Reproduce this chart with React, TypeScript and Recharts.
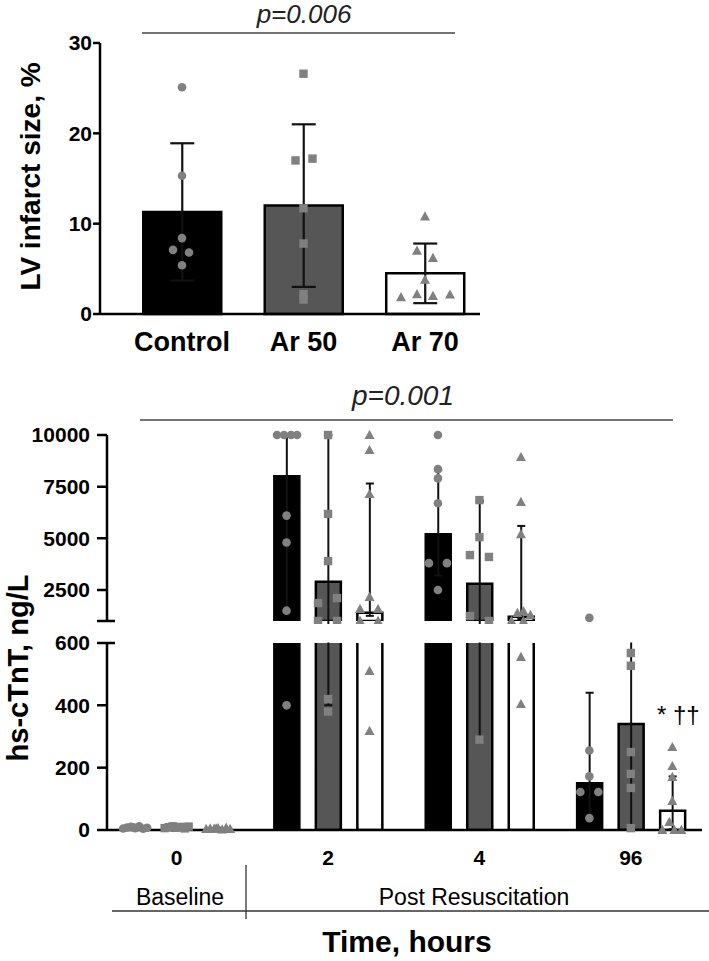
import React from 'react';
import { ComposedChart, Bar, Cell, Scatter, XAxis, YAxis, ErrorBar, ReferenceLine } from 'recharts';

const FONT = '"Liberation Sans", Arial, Helvetica, sans-serif';
const BLACK = '#000000';
const POINT = '#808080';
const FILLS = ['#000000', '#565656', '#ffffff'];

// ---------- Top panel: LV infarct size ----------
const groups = ['Control', 'Ar 50', 'Ar 70'];
const infarctMean = [11.3, 12.0, 4.5];
const infarctSD = [7.6, 9.0, 3.3];
const infarctControl = [25.1, 15.3, 8.4, 7.1, 6.8, 5.4];
const infarctAr50 = [26.6, 17.0, 17.2, 11.7, 7.8, 2.2, 1.6];
const infarctAr70 = [10.8, 7.0, 6.2, 3.8, 2.2, 1.85, 2.0, 2.15];
// horizontal jitter of the dots (px)
const jitterTopControl = [0, 0, 0, -9, 7, 0];
const jitterTopAr50 = [0, -8, 9, 0, 0, 0, 0];
const jitterTopAr70 = [0, -8, 8, 0, -8, -24, 8, 25];

// ---------- Bottom panel: hs-cTnT ----------
const times = ['0', '2', '4', '96'];
const tntControl = [7, 8000, 5200, 150];
const tntAr50 = [9, 2900, 2800, 340];
const tntAr70 = [4, 1400, 1200, 62];
// [lower delta, upper delta]
const tntControlErr = [[3, 4], [6500, 2000], [2000, 3100], [110, 290]];
const tntAr50Err = [[4, 4], [2500, 7100], [2510, 4000], [330, 400]];
const tntAr70Err = [[2, 3], [150, 6250], [100, 4400], [60, 110]];

const tntControlPts = [
  [5, 8, 10, 6, 12, 4, 7, 9],
  [10000, 10000, 10000, 10000, 6100, 4800, 1500, 400],
  [10000, 8350, 7900, 6700, 3800, 3800, 2500],
  [1150, 255, 172, 122, 122, 38],
];
const tntAr50Pts = [
  [6, 9, 12, 8, 10, 5, 11, 7],
  [10000, 6180, 3900, 2110, 1870, 1000, 1000, 420, 380],
  [6850, 5060, 4190, 4100, 1240, 1000, 290],
  [568, 527, 250, 180, 135, 6],
];
const tntAr70Pts = [
  [3, 5, 4, 6, 2, 7, 3, 5],
  [10000, 9270, 7140, 2160, 1580, 1580, 1000, 1000, 510, 318],
  [8930, 6760, 5200, 1390, 1480, 1290, 1000, 1000, 555, 404],
  [266, 205, 170, 93, 26, 0, 0, 0],
];
// horizontal jitter of the dots (px)
const jitterControl = [
  [-12, -8, -4, 0, 4, 8, 12, -2],
  [-9.5, -2.5, 4.5, 10.5, 0, 0, 0, 0],
  [0, 0, 0, 0, -9, 9, 0],
  [0, 0, 0, -9, 9, 0],
];
const jitterAr50 = [
  [-12, -8, -4, 0, 4, 8, 12, -2],
  [0, 0, 0, 9, -10, -10, 9, 0, 0],
  [0, 0, -9.5, 9.5, -9.5, 9.5, 0],
  [0, 0, 0, 0, 0, 0],
];
const jitterAr70 = [
  [-12, -8, -4, 0, 4, 8, 12, -2],
  [0, 0, 0, 0, -9.5, 8.5, -9.5, 8.5, 0, 0],
  [0, 0, 0, -3.5, 2.5, 9.5, -9.5, 2.5, 0, 0],
  [0, 0, 0, 0, -3, -10, 2, 9],
];

const upperTicks = [1000, 2500, 5000, 7500, 10000];
const lowerTicks = [0, 200, 400, 600];

// ---------- layout ----------
const TOP_X: [number, number] = [-0.675, 2.453];
const TOP_PX = 380 / (TOP_X[1] - TOP_X[0]);
const BOT_X: [number, number] = [-0.46, 3.47];
const BOT_PX = 595 / (BOT_X[1] - BOT_X[0]);
const DODGE = 41.5;

const circleShape = (p: any) => <circle cx={p.cx} cy={p.cy} r={4.3} fill={POINT} />;
const squareShape = (p: any) => (
  <rect x={p.cx - 4.2} y={p.cy - 4.2} width={8.4} height={8.4} fill={POINT} />
);
const triShape = (p: any) => (
  <polygon
    points={`${p.cx},${p.cy - 5.2} ${p.cx - 5},${p.cy + 4} ${p.cx + 5},${p.cy + 4}`}
    fill={POINT}
  />
);
const shapes = [circleShape, squareShape, triShape];

const axisStyle = { stroke: BLACK, strokeWidth: 2.5 };
const tickFont = { fill: BLACK, fontSize: 21, fontWeight: 700, fontFamily: FONT };

const topRows = groups.map((g, i) => ({ idx: i, mean: infarctMean[i], sd: infarctSD[i] }));
const topPointSets = [
  { vals: infarctControl, jit: jitterTopControl },
  { vals: infarctAr50, jit: jitterTopAr50 },
  { vals: infarctAr70, jit: jitterTopAr70 },
].map((s, si) => s.vals.map((v, k) => ({ idx: si + (s.jit[k] || 0) / TOP_PX, v })));

const botRows = times.map((t, i) => ({
  idx: i,
  c: tntControl[i],
  a50: tntAr50[i],
  a70: tntAr70[i],
  cErr: tntControlErr[i],
  a50Err: tntAr50Err[i],
  a70Err: tntAr70Err[i],
}));
const botSeries = [
  { key: 'c', err: 'cErr', pts: tntControlPts, jit: jitterControl },
  { key: 'a50', err: 'a50Err', pts: tntAr50Pts, jit: jitterAr50 },
  { key: 'a70', err: 'a70Err', pts: tntAr70Pts, jit: jitterAr70 },
];

function BottomPanel(props: {
  domain: [number, number];
  ticks: number[];
  height: number;
  margin: any;
  showX: boolean;
  keep: (v: number) => boolean;
  breakAt: number;
  hideLabel: number | null;
}) {
  const { domain, ticks, height, margin, showX, keep, breakAt, hideLabel } = props;
  // a bar lying wholly below this segment of the broken axis is not drawn here
  const rows = botRows.map((r) => {
    const o: any = { ...r };
    botSeries.forEach((s) => {
      if ((r as any)[s.key] < domain[0]) o[s.key] = null;
    });
    return o;
  });
  return (
    <ComposedChart width={709} height={height} data={rows} margin={margin} barGap={16.5}>
      <XAxis
        type="number"
        dataKey="idx"
        domain={BOT_X}
        ticks={[0, 1, 2, 3]}
        interval={0}
        hide={!showX}
        height={40}
        tickFormatter={(v: number) => times[v] ?? ''}
        tickLine={false}
        tickSize={10}
        tickMargin={10}
        axisLine={axisStyle}
        tick={tickFont}
      />
      <XAxis xAxisId="pts" type="number" dataKey="idx" domain={BOT_X} hide />
      <YAxis
        type="number"
        domain={domain}
        ticks={ticks}
        interval={0}
        allowDataOverflow
        width={80}
        tickSize={10}
        tickMargin={7}
        axisLine={axisStyle}
        tickLine={axisStyle}
        tick={tickFont}
        tickFormatter={(v: number) => (v === hideLabel ? '' : String(v))}
      />
      <YAxis yAxisId="pts" type="number" domain={domain} hide />
      {botSeries.map((s, si) => (
        <Bar
          key={s.key}
          dataKey={s.key}
          barSize={25}
          fill={FILLS[si]}
          stroke={BLACK}
          strokeWidth={2.5}
          isAnimationActive={false}
        >
          <ErrorBar dataKey={s.err} width={4} strokeWidth={2} stroke="#111" direction="y" />
        </Bar>
      ))}
      <ReferenceLine
        segment={[
          { x: BOT_X[0], y: breakAt },
          { x: BOT_X[0] + 8 / BOT_PX, y: breakAt },
        ]}
        stroke={BLACK}
        strokeWidth={2.5}
        ifOverflow="visible"
      />
      {botSeries.map((s, si) => {
        const data: { idx: number; v: number }[] = [];
        s.pts.forEach((vals, ti) =>
          vals.forEach((v, k) => {
            if (keep(v)) {
              data.push({ idx: ti + ((si - 1) * DODGE + (s.jit[ti][k] || 0)) / BOT_PX, v });
            }
          })
        );
        return (
          <Scatter
            key={'s' + si}
            xAxisId="pts"
            yAxisId="pts"
            data={data}
            dataKey="v"
            shape={shapes[si]}
            isAnimationActive={false}
          />
        );
      })}
    </ComposedChart>
  );
}

export default function App() {
  return (
    <div
      style={{
        position: 'absolute',
        left: 0,
        top: 0,
        width: 709,
        height: 961,
        background: '#fff',
        fontFamily: FONT,
        overflow: 'hidden',
      }}
    >
      <div style={{ position: 'absolute', left: 0, top: 0 }}>
        <ComposedChart
          width={709}
          height={380}
          data={topRows}
          margin={{ top: 43, right: 229, bottom: 26, left: 40 }}
        >
          <XAxis
            type="number"
            dataKey="idx"
            domain={TOP_X}
            ticks={[0, 1, 2]}
            interval={0}
            height={40}
            tickFormatter={(v: number) => groups[v] ?? ''}
            tickLine={false}
            tickSize={10}
            tickMargin={8}
            axisLine={axisStyle}
            tick={{ ...tickFont, fontSize: 27 }}
          />
          <XAxis xAxisId="pts" type="number" dataKey="idx" domain={TOP_X} hide />
          <YAxis
            type="number"
            domain={[0, 30]}
            ticks={[0, 10, 20, 30]}
            interval={0}
            width={60}
            tickSize={7}
            tickMargin={1}
            axisLine={axisStyle}
            tickLine={axisStyle}
            tick={tickFont}
          />
          <YAxis yAxisId="pts" type="number" domain={[0, 30]} hide />
          <Bar dataKey="mean" barSize={78} stroke={BLACK} strokeWidth={2.5} isAnimationActive={false}>
            {topRows.map((r, i) => (
              <Cell key={i} fill={FILLS[i]} />
            ))}
            <ErrorBar dataKey="sd" width={12} strokeWidth={2.2} stroke="#111" direction="y" />
          </Bar>
          {topPointSets.map((data, si) => (
            <Scatter
              key={si}
              xAxisId="pts"
              yAxisId="pts"
              data={data}
              dataKey="v"
              shape={shapes[si]}
              isAnimationActive={false}
            />
          ))}
        </ComposedChart>
      </div>

      {/* upper segment of the broken axis: plot region clipped at its lower edge */}
      <div
        style={{
          position: 'absolute',
          left: 0,
          top: 380,
          width: 709,
          height: 260,
          clipPath: 'polygon(0 0, 709px 0, 709px 244px, 118px 244px, 118px 260px, 0 260px)',
        }}
      >
        <BottomPanel
          domain={[1000, 10000]}
          ticks={upperTicks}
          height={260}
          margin={{ top: 55, right: 7, bottom: 19, left: 27 }}
          showX={false}
          keep={(v) => v >= 1000}
          breakAt={1000}
          hideLabel={1000}
        />
      </div>

      {/* lower segment: plot region clipped at its upper edge */}
      <div
        style={{
          position: 'absolute',
          left: 0,
          top: 630,
          width: 709,
          height: 331,
          clipPath: 'polygon(0 0, 118px 0, 118px 12.5px, 709px 12.5px, 709px 331px, 0 331px)',
        }}
      >
        <BottomPanel
          domain={[0, 600]}
          ticks={lowerTicks}
          height={331}
          margin={{ top: 13, right: 7, bottom: 91, left: 27 }}
          showX={true}
          keep={(v) => v <= 600}
          breakAt={600}
          hideLabel={null}
        />
      </div>

      <svg
        width={709}
        height={961}
        style={{ position: 'absolute', left: 0, top: 0, pointerEvents: 'none' }}
        fontFamily={FONT}
      >
        <text x={304} y={23} textAnchor="middle" fontSize={26} fontStyle="italic" fill="#222">
          p=0.006
        </text>
        <line x1={142} y1={33} x2={455} y2={33} stroke="#444" strokeWidth={1.5} />
        <text
          x={40}
          y={176.5}
          transform="rotate(-90 40 176.5)"
          textAnchor="middle"
          fontSize={28}
          fontWeight={700}
          fill={BLACK}
        >
          LV infarct size, %
        </text>

        <text x={403} y={405} textAnchor="middle" fontSize={28} fontStyle="italic" fill="#222">
          p=0.001
        </text>
        <line x1={140} y1={420} x2={673} y2={420} stroke="#444" strokeWidth={1.5} />
        <text
          x={28}
          y={668}
          transform="rotate(-90 28 668)"
          textAnchor="middle"
          fontSize={29}
          fontWeight={700}
          fill={BLACK}
        >
          hs-cTnT, ng/L
        </text>
        <text x={657} y={723} fontSize={24} fill={BLACK}>
          * ††
        </text>

        <text x={180} y={905} textAnchor="middle" fontSize={23} fill={BLACK}>
          Baseline
        </text>
        <text x={474} y={905} textAnchor="middle" fontSize={23} fill={BLACK}>
          Post Resuscitation
        </text>
        <line x1={112} y1={911} x2={709} y2={911} stroke="#333" strokeWidth={1.3} />
        <line x1={246} y1={865} x2={246} y2={919} stroke="#333" strokeWidth={1.3} />
        <text x={407} y={952} textAnchor="middle" fontSize={30} fontWeight={700} fill={BLACK}>
          Time, hours
        </text>
      </svg>
    </div>
  );
}
